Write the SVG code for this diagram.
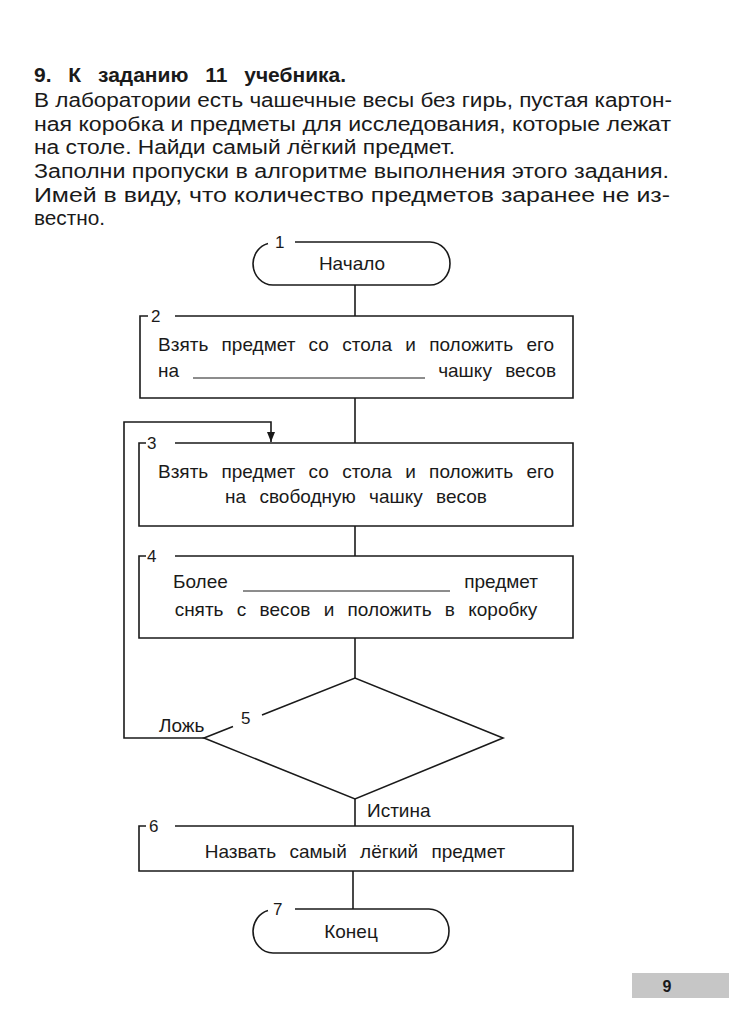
<svg xmlns="http://www.w3.org/2000/svg" width="733" height="1034" viewBox="0 0 733 1034">
<defs>
<style>
.t{font-family:"Liberation Sans",Arial,sans-serif;fill:#1a1a1a}
.body{font-size:19.5px}
.fc{font-size:19px;word-spacing:8px}
.num{font-size:17px}
.ln{fill:none;stroke:#1a1a1a;stroke-width:1.6}
.ul{fill:none;stroke:#1a1a1a;stroke-width:1}
</style>
<marker id="ah" viewBox="0 0 10 8" refX="10" refY="4" markerWidth="10" markerHeight="8" markerUnits="userSpaceOnUse" orient="auto">
<path d="M0,0 L10,4 L0,8 Z" fill="#1a1a1a"/>
</marker>
</defs>
<rect width="733" height="1034" fill="#ffffff"/>

<g id="task">
<text class="t" x="34" y="82" font-size="21" font-weight="bold" word-spacing="11">9. К заданию 11 учебника.</text>
<text class="t body" x="34" y="107" textLength="638" lengthAdjust="spacingAndGlyphs">В лаборатории есть чашечные весы без гирь, пустая картон-</text>
<text class="t body" x="34" y="131" textLength="637" lengthAdjust="spacingAndGlyphs">ная коробка и предметы для исследования, которые лежат</text>
<text class="t body" x="34" y="154" textLength="421" lengthAdjust="spacingAndGlyphs">на столе. Найди самый лёгкий предмет.</text>
<text class="t body" x="34" y="178" textLength="635" lengthAdjust="spacingAndGlyphs">Заполни пропуски в алгоритме выполнения этого задания.</text>
<text class="t body" x="34" y="202" textLength="636" lengthAdjust="spacingAndGlyphs">Имей в виду, что количество предметов заранее не из-</text>
<text class="t body" x="34" y="225" textLength="71" lengthAdjust="spacingAndGlyphs">вестно.</text>
</g>

<g id="connectors">
<line class="ln" x1="355" y1="285" x2="355" y2="316"/>
<line class="ln" x1="355" y1="398" x2="355" y2="443"/>
<line class="ln" x1="355" y1="526" x2="355" y2="556"/>
<line class="ln" x1="355" y1="638" x2="355" y2="678"/>
<line class="ln" x1="355" y1="799" x2="355" y2="826"/>
<line class="ln" x1="353" y1="871" x2="353" y2="909"/>
<polyline class="ln" points="204,738 124,738 124,422 271,422 271,442" marker-end="url(#ah)"/>
<text class="t fc" x="159" y="732">Ложь</text>
<text class="t fc" x="367" y="817">Истина</text>
</g>

<g id="n1">
<path class="ln" d="M295,242 H430 A20,21.5 0 0 1 450,263.5 A20,21.5 0 0 1 430,285 H273 A20,21.5 0 0 1 253,263.5 A20,21.5 0 0 1 268,243.5"/>
<text class="t num" x="275" y="248">1</text>
<text class="t fc" x="352" y="270" text-anchor="middle">Начало</text>
</g>

<g id="n2">
<path class="ln" d="M148,316 H140 V398 H573 V316 H175"/>
<text class="t num" x="151" y="322">2</text>
<text class="t fc" x="158" y="351">Взять предмет со стола и положить его</text>
<text class="t fc" x="158" y="377">на</text>
<line class="ul" x1="193" y1="378" x2="425" y2="378"/>
<text class="t fc" x="556" y="377" text-anchor="end">чашку весов</text>
</g>

<g id="n3">
<path class="ln" d="M146,443 H139 V526 H573 V443 H175"/>
<text class="t num" x="147" y="449">3</text>
<text class="t fc" x="356" y="478" text-anchor="middle">Взять предмет со стола и положить его</text>
<text class="t fc" x="356" y="503" text-anchor="middle">на свободную чашку весов</text>
</g>

<g id="n4">
<path class="ln" d="M146,556 H139 V638 H573 V556 H175"/>
<text class="t num" x="147" y="562">4</text>
<text class="t fc" x="173" y="588">Более</text>
<line class="ul" x1="243" y1="591" x2="450" y2="591"/>
<text class="t fc" x="538" y="588" text-anchor="end">предмет</text>
<text class="t fc" x="356" y="616" text-anchor="middle">снять с весов и положить в коробку</text>
</g>

<g id="n5">
<path class="ln" d="M262,715 L355,678 L503,738 L355,799 L204,738 L233,726.5"/>
<text class="t num" x="241" y="724">5</text>
</g>

<g id="n6">
<path class="ln" d="M146,826 H139 V871 H573 V826 H175"/>
<text class="t num" x="149" y="832">6</text>
<text class="t fc" x="355" y="858" text-anchor="middle">Назвать самый лёгкий предмет</text>
</g>

<g id="n7">
<path class="ln" d="M295,909 H429 A20,22 0 0 1 449,931 A20,22 0 0 1 429,953 H273 A20,22 0 0 1 253,931 A20,22 0 0 1 268,910.5"/>
<text class="t num" x="273" y="915">7</text>
<text class="t fc" x="351" y="938" text-anchor="middle">Конец</text>
</g>

<g id="page">
<rect x="632" y="973" width="97" height="25" fill="#c6c6c6"/>
<text class="t" x="667" y="992" font-size="16" font-weight="bold" text-anchor="middle">9</text>
</g>
</svg>
